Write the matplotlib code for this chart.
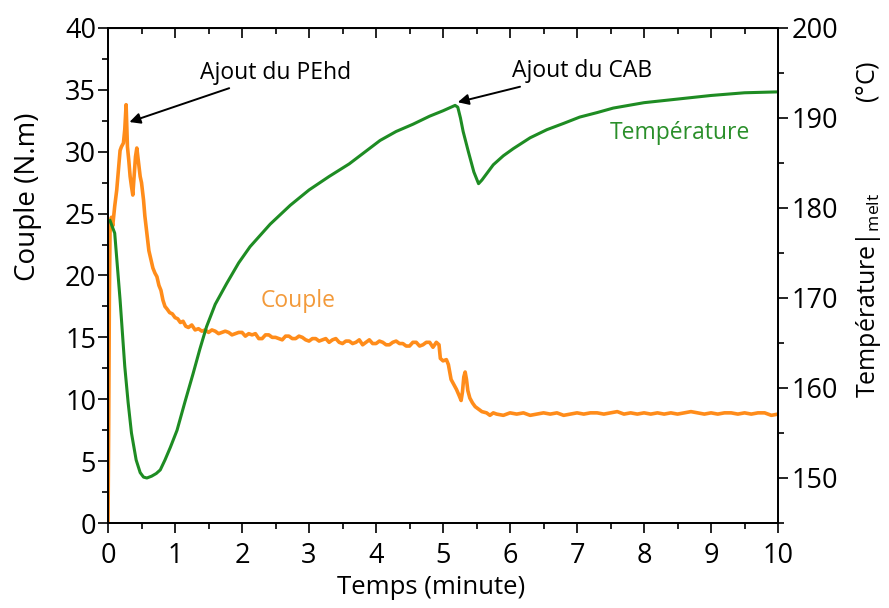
import matplotlib
matplotlib.use('Agg')
import matplotlib.pyplot as plt
from matplotlib.ticker import MultipleLocator

plt.rcParams['font.family'] = ['Open Sans', 'DejaVu Sans']

# couple (N.m) vs temps (minute)
t_couple = [0.00, 0.01, 0.02, 0.03, 0.05, 0.07, 0.10, 0.13, 0.15, 0.18,
            0.20, 0.23, 0.25, 0.27, 0.29, 0.31, 0.33, 0.35,
            0.37, 0.39, 0.41, 0.43, 0.45, 0.48, 0.50, 0.53, 0.55,
            0.58, 0.61, 0.64, 0.67, 0.70, 0.73, 0.76, 0.79, 0.82, 0.85,
            0.88, 0.92, 0.96, 1.00, 1.04, 1.08, 1.12, 1.16, 1.20, 1.25,
            1.30, 1.35, 1.40, 1.45, 1.50, 1.55, 1.60, 1.65, 1.70, 1.75,
            1.80, 1.85, 1.90, 1.95, 2.00, 2.05, 2.10, 2.15, 2.20, 2.25,
            2.30, 2.35, 2.40, 2.45, 2.50, 2.55, 2.60, 2.65, 2.70, 2.75,
            2.80, 2.85, 2.90, 2.95, 3.00, 3.05, 3.10, 3.15, 3.20, 3.25,
            3.30, 3.35, 3.40, 3.45, 3.50, 3.55, 3.60, 3.65, 3.70, 3.75,
            3.80, 3.85, 3.90, 3.95, 4.00, 4.05, 4.10, 4.15, 4.20, 4.25,
            4.30, 4.35, 4.40, 4.45, 4.50, 4.55, 4.60, 4.65, 4.70, 4.75,
            4.80, 4.85, 4.90, 4.94, 4.96, 5.00, 5.05, 5.08, 5.12, 5.16,
            5.20, 5.24, 5.27, 5.29, 5.31, 5.33, 5.35, 5.37, 5.40, 5.44,
            5.48, 5.53, 5.58, 5.65, 5.70, 5.75, 5.80, 5.90, 6.00, 6.10,
            6.20, 6.30, 6.40, 6.50, 6.60, 6.70, 6.80, 6.90, 7.00, 7.10,
            7.20, 7.30, 7.40, 7.50, 7.60, 7.70, 7.80, 7.90, 8.00, 8.10,
            8.20, 8.30, 8.40, 8.50, 8.60, 8.70, 8.80, 8.90, 9.00, 9.10,
            9.20, 9.30, 9.40, 9.50, 9.60, 9.70, 9.80, 9.90, 10.0]
couple = [0.0, 8.0, 18.0, 23.5, 24.7, 24.0, 25.6, 26.9, 28.2, 30.1,
          30.4, 30.7, 31.8, 33.8, 30.4, 29.3, 28.0, 27.2,
          26.5, 28.0, 29.6, 30.3, 29.4, 28.0, 27.5, 26.1, 24.8,
          23.4, 22.0, 21.3, 20.6, 20.2, 19.9, 19.2, 18.8, 18.0, 17.5,
          17.3, 17.0, 16.9, 16.6, 16.5, 16.2, 16.3, 15.9, 15.8, 16.0,
          15.6, 15.7, 15.5, 15.6, 15.4, 15.6, 15.5, 15.3, 15.4, 15.5,
          15.4, 15.2, 15.3, 15.4, 15.4, 15.1, 15.3, 15.2, 15.3, 14.9,
          14.9, 15.2, 15.2, 15.0, 15.0, 14.9, 14.8, 15.1, 15.1, 14.9,
          14.9, 15.1, 15.0, 14.8, 14.7, 14.9, 14.9, 14.7, 14.8, 14.9,
          14.6, 14.8, 14.9, 14.6, 14.5, 14.7, 14.7, 14.5, 14.6, 14.8,
          14.4, 14.6, 14.8, 14.5, 14.5, 14.7, 14.6, 14.4, 14.4, 14.6,
          14.7, 14.5, 14.5, 14.3, 14.3, 14.6, 14.6, 14.3, 14.4, 14.6,
          14.6, 14.2, 14.6, 14.4, 13.3, 13.1, 13.2, 12.8, 11.6, 11.2,
          10.8, 10.3, 9.9, 10.6, 11.8, 12.2, 11.6, 10.7, 10.1, 9.7,
          9.4, 9.2, 9.0, 8.9, 8.7, 8.9, 8.8, 8.7, 8.9, 8.8,
          8.9, 8.7, 8.8, 8.9, 8.8, 8.9, 8.7, 8.8, 8.9, 8.8,
          8.9, 8.9, 8.8, 8.9, 9.0, 8.8, 8.9, 8.8, 8.9, 8.8,
          8.9, 8.8, 8.9, 8.8, 8.9, 9.0, 8.9, 8.8, 8.9, 8.8,
          8.9, 8.9, 8.8, 8.9, 8.8, 8.9, 8.9, 8.7, 8.8]

# temperature (C) vs temps (minute)
t_temp = [0.03, 0.06, 0.10, 0.14, 0.18, 0.25, 0.30, 0.35, 0.42, 0.48,
          0.53, 0.58, 0.65, 0.72, 0.78, 0.85, 0.93, 1.03, 1.15, 1.27,
          1.37, 1.47, 1.60, 1.77, 1.95, 2.12, 2.42, 2.72, 3.00, 3.30,
          3.60, 4.06, 4.30, 4.55, 4.80, 5.00, 5.18, 5.22, 5.26, 5.30,
          5.38, 5.46, 5.53, 5.58, 5.65, 5.75, 5.90, 6.05, 6.30, 6.55,
          6.80, 7.04, 7.30, 7.54, 8.00, 8.50, 9.00, 9.50, 10.0]
temp = [178.6, 178.0, 177.2, 173.5, 169.8, 162.4, 158.4, 155.0, 152.0, 150.6,
        150.1, 150.0, 150.2, 150.5, 150.9, 152.0, 153.4, 155.3, 158.5, 161.6,
        164.3, 166.8, 169.3, 171.6, 173.9, 175.7, 178.2, 180.3, 182.0, 183.5,
        184.9, 187.5, 188.5, 189.3, 190.2, 190.8, 191.4, 191.2, 190.0, 188.5,
        186.2, 184.0, 182.7, 183.1, 183.8, 184.8, 185.8, 186.6, 187.8, 188.7,
        189.4, 190.1, 190.6, 191.1, 191.7, 192.1, 192.5, 192.8, 192.9]

orange = '#ff8c1a'
green = '#1e8c23'

fig = plt.figure(figsize=(8.89, 6.08), dpi=100)
ax = fig.add_axes([0.1215, 0.1398, 0.7537, 0.8142])
ax.plot(t_couple, couple, color=orange, lw=2.6)
ax.set_xlim(0, 10)
ax.set_ylim(0, 40)

ax2 = ax.twinx()
ax2.plot(t_temp, temp, color=green, lw=2.2)
ax2.set_ylim(145, 200)

ax.xaxis.set_major_locator(MultipleLocator(1))
ax.xaxis.set_minor_locator(MultipleLocator(0.5))
ax.yaxis.set_major_locator(MultipleLocator(5))
ax.yaxis.set_minor_locator(MultipleLocator(2.5))
ax2.yaxis.set_major_locator(MultipleLocator(10))
ax2.yaxis.set_minor_locator(MultipleLocator(5))

for a in (ax, ax2):
    a.tick_params(which='both', direction='out', width=1.2, labelsize=19.5)
    a.tick_params(which='major', length=7)
    a.tick_params(which='minor', length=4)
    for s in a.spines.values():
        s.set_linewidth(1.3)
ax.tick_params(axis='x', which='major', pad=7)
ax.tick_params(axis='y', which='major', pad=1.5)
ax2.tick_params(axis='y', which='major', pad=2.5)

# top ticks point inward
top = ax.secondary_xaxis('top')
top.xaxis.set_major_locator(MultipleLocator(1))
top.xaxis.set_minor_locator(MultipleLocator(0.5))
top.tick_params(which='both', direction='in', width=1.2, labeltop=False)
top.tick_params(which='major', length=7)
top.tick_params(which='minor', length=4)

ax.set_xlabel('Temps (minute)', fontsize=18.5)
ax.xaxis.set_label_coords(0.482, -0.106)
ax.set_ylabel('Couple (N.m)', fontsize=20)
ax.yaxis.set_label_coords(-0.0985, 0.66)
ax2.set_ylabel('Température|$_{\\mathregular{melt}}$' + ' ' * 14 + '(°C)',
               fontsize=18)
ax2.yaxis.set_label_coords(1.113, 0.594)

ax.annotate('Ajout du PEhd', xy=(0.32, 32.4), xytext=(1.37, 36.4),
            fontsize=16.5, va='center', ha='left',
            arrowprops=dict(arrowstyle='-|>', color='black', lw=1.4,
                            shrinkA=2, shrinkB=0, mutation_scale=16))
ax.annotate('Ajout du CAB', xy=(5.22, 34.0), xytext=(6.03, 36.5),
            fontsize=16.5, va='center', ha='left',
            arrowprops=dict(arrowstyle='-|>', color='black', lw=1.4,
                            shrinkA=2, shrinkB=0, mutation_scale=16))
ax.text(2.84, 17.9, 'Couple', color='#f39a3a', fontsize=16.5,
        ha='center', va='center')
ax.text(8.54, 31.5, 'Température', color='#2a8f2a', fontsize=16.5,
        ha='center', va='center')

plt.savefig('out.png', dpi=100)
